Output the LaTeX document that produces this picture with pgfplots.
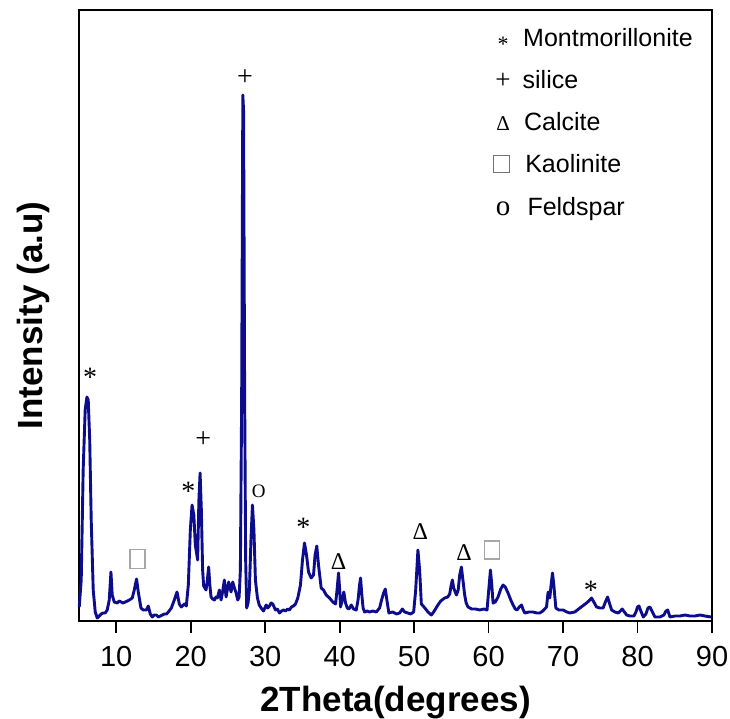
\documentclass[border=0pt]{standalone}
\usepackage{pgfplots}
\usepackage{pgfplotstable}
\pgfplotsset{compat=1.18}
\usepackage{fontspec}
\setmainfont{Liberation Sans}
\newfontfamily\serif{Liberation Serif}
\definecolor{xrd}{RGB}{12,12,140}

\pgfplotstableread{
t h
5.03 14
5.30 41
5.56 151
5.83 211
6.06 224
6.24 221
6.44 181
6.64 101
6.91 31
7.18 9
7.45 3
7.72 5
7.98 7
8.25 8
8.52 8
8.79 11
9.06 21
9.29 49
9.46 26
9.73 19
10.13 18
10.40 20
10.67 19
10.90 18
11.20 19
11.50 20
11.75 21
12.15 23
12.42 31
12.73 42
12.96 29
13.32 13
13.63 11
14.03 11
14.30 15
14.57 7
14.84 4
15.10 6
15.38 6
15.65 4
15.92 5
16.20 6
16.46 7
16.75 7
17.00 9
17.40 13
17.80 21
18.16 29
18.47 17
18.74 14
19.15 17
19.41 15
19.68 36
19.95 91
20.18 116
20.42 106
20.62 76
20.93 61
21.10 121
21.26 148
21.43 111
21.60 51
21.74 35
22.06 31
22.24 41
22.41 54
22.57 36
22.73 24
22.95 22
23.18 21
23.40 24
23.58 23
23.85 31
24.08 21
24.32 31
24.52 41
24.75 24
25.10 39
25.42 29
25.64 39
25.87 33
26.10 28
26.31 21
26.50 24
26.67 51
26.84 220
27.00 526
27.10 510
27.24 230
27.38 61
27.52 13
27.70 18
27.88 31
28.09 81
28.29 116
28.49 91
28.69 41
28.96 23
29.20 16
29.46 13
29.77 10
30.13 16
30.35 13
30.57 15
30.80 18
31.02 17
31.20 14
31.38 11
31.65 12
31.92 8
32.20 10
32.46 11
32.75 10
33.00 12
33.25 11
33.53 14
33.80 15
34.07 17
34.38 23
34.74 36
35.01 61
35.28 78
35.55 66
35.82 49
36.18 43
36.49 46
36.70 66
36.93 75
37.16 56
37.52 33
37.83 31
38.20 26
38.64 23
39.08 19
39.45 17
39.65 31
39.85 48
40.01 31
40.12 14
40.35 21
40.56 29
40.79 18
41.02 13
41.26 12
41.56 16
41.87 12
42.23 11
42.47 21
42.67 36
42.81 43
42.98 26
43.15 13
43.35 9
43.70 10
44.02 9
44.45 10
44.92 9
45.36 13
45.63 21
45.90 28
46.13 32
46.34 21
46.61 8
47.11 9
47.65 7
48.05 8
48.42 12
48.73 9
49.17 8
49.53 7
49.94 9
50.21 31
50.51 71
50.74 51
50.97 17
51.21 15
51.55 12
51.86 9
52.31 6
52.62 9
53.20 16
53.57 20
54.10 23
54.51 24
54.78 27
54.98 36
55.14 41
55.31 33
55.68 26
55.92 31
56.12 46
56.35 54
56.52 43
56.79 26
56.99 18
57.24 14
57.73 12
58.27 12
58.81 11
59.35 12
59.79 11
60.02 31
60.25 51
60.43 36
60.60 18
60.90 19
61.27 24
61.63 32
61.94 36
62.24 34
62.61 28
62.98 21
63.29 16
63.58 12
63.82 11
64.12 14
64.42 16
64.66 11
64.86 8
65.40 9
65.97 9
66.47 8
66.88 8
67.28 10
67.78 14
67.99 29
68.22 23
68.39 36
68.58 48
68.76 36
69.03 13
69.43 11
70.01 11
70.51 9
70.91 8
71.58 9
72.26 13
72.80 16
73.15 18
73.46 20
73.83 23
74.13 19
74.50 14
74.94 13
75.38 13
75.68 19
75.98 24
76.22 18
76.52 11
76.96 9
77.40 8
77.70 10
77.94 12
78.24 9
78.53 6
78.98 5
79.52 5
79.79 9
79.99 14
80.19 15
80.39 11
80.77 4
81.13 7
81.40 13
81.67 14
81.94 10
82.34 4
83.01 4
83.55 6
83.82 10
84.05 11
84.22 7
84.36 4
85.03 5
85.70 5
86.37 6
87.05 5
87.72 5
88.39 6
89.06 5
89.87 4
}\xrddata

\begin{document}
\begin{tikzpicture}
\begin{axis}[
  scale only axis,
  width=633pt, height=611pt,
  xmin=5, xmax=90, ymin=0, ymax=611,
  xtick={10,20,...,90},
  ytick=\empty,
  xtick pos=lower,
  tick align=outside,
  major tick length=12pt,
  major tick style={black, line width=1.8pt},
  axis line style={black, line width=1.8pt},
  /pgf/number format/assume math mode=true,
  ticklabel style={font=\fontsize{29}{29}\selectfont},
  xticklabel style={yshift=-10pt},
  xlabel={2Theta(degrees)},
  ylabel={Intensity (a.u)},
  label style={font=\fontsize{35}{35}\selectfont\bfseries},
  xlabel style={at={(axis description cs:0.5,-0.1334)}, anchor=center},
  ylabel style={at={(axis description cs:-0.0727,0.5)}, anchor=center},
  clip=false,
]
\addplot[xrd, line width=2.9pt, line join=round] table[x=t, y=h] {\xrddata};

% peak annotations
\begin{scope}[every node/.style={font=\serif\fontsize{28}{28}\selectfont, inner sep=0pt, anchor=center}]
\node at (axis cs:6.5,244) {*};
\node at (axis cs:19.68,130) {*};
\node at (axis cs:35.14,94) {*};
\node at (axis cs:73.73,31) {*};
\node at (axis cs:21.7,181) {+};
\node at (axis cs:27.3,543) {+};
\node at (axis cs:39.85,59) {\fontsize{24}{24}\selectfont Δ};
\node at (axis cs:50.84,89) {\fontsize{24}{24}\selectfont Δ};
\node at (axis cs:56.7,68) {\fontsize{24}{24}\selectfont Δ};
\node at (axis cs:29.13,130) {\fontsize{19}{19}\selectfont O};
\end{scope}
\node[draw=gray!70, line width=1.1pt, minimum width=15pt, minimum height=19pt, inner sep=0pt] at (axis cs:12.86,62) {};
\node[draw=gray!70, line width=1.1pt, minimum width=15pt, minimum height=18pt, inner sep=0pt] at (axis cs:60.46,71) {};

% legend
\begin{scope}[every node/.style={font=\fontsize{25}{25}\selectfont, inner sep=0pt, anchor=base west}]
\node at (axis cs:64.62,574) {Montmorillonite};
\node at (axis cs:64.55,532) {silice};
\node at (axis cs:64.75,490) {Calcite};
\node at (axis cs:64.9,448) {Kaolinite};
\node at (axis cs:65.2,405) {Feldspar};
\end{scope}
\begin{scope}[every node/.style={font=\serif\fontsize{27}{27}\selectfont, inner sep=0pt, anchor=center}]
\node at (axis cs:61.94,577) {\fontsize{22}{22}\selectfont *};
\node at (axis cs:61.94,540) {+};
\node at (axis cs:61.94,497) {\fontsize{21}{21}\selectfont Δ};
\node at (axis cs:61.94,412) {\fontsize{29}{29}\selectfont o};
\end{scope}
\node[draw=gray!90!black, line width=1.1pt, minimum width=16pt, minimum height=17pt, inner sep=0pt] at (axis cs:61.75,457) {};
\end{axis}
\pgfresetboundingbox
\useasboundingbox (-79pt,-98pt) rectangle (651pt,621pt);
\end{tikzpicture}
\end{document}
